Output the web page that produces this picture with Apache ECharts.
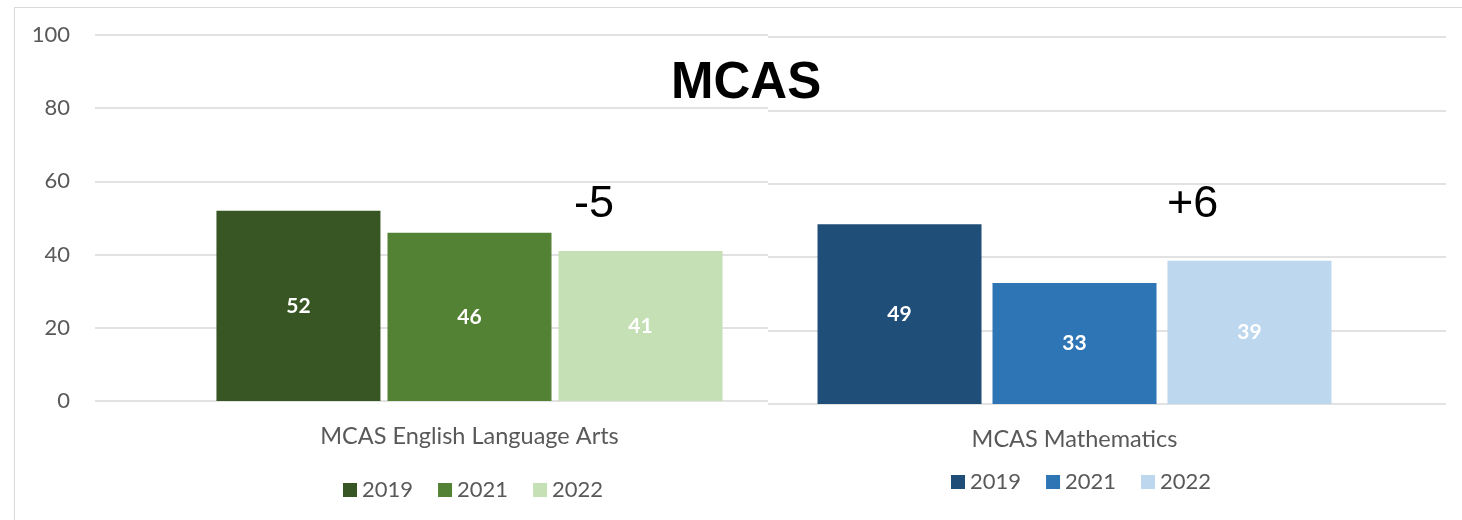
<!DOCTYPE html>
<html>
<head>
<meta charset="utf-8">
<script src="https://cdn.jsdelivr.net/npm/echarts@6/dist/echarts.min.js"></script>
<style>
    body { margin: 0; background: #fff; }
    .wrap { position: absolute; top: 0; height: 520px; overflow: hidden; }
    #ela-wrap { left: 0; width: 768px; }
    #math-wrap { left: 768px; width: 694px; }
    #ela { position: absolute; left: 0; top: 0; width: 860px; height: 520px; }
    #math { position: absolute; left: -65px; top: 0; width: 759px; height: 520px; }
    #notes { position: absolute; left: 0; top: 0; width: 1462px; height: 520px; pointer-events: none; }
    #frame { position: absolute; left: 14px; top: 7px; width: 1448px; height: 513px;
             border-left: 1px solid #d9d9d9; border-top: 1px solid #d9d9d9; }
</style>
</head>
<body>
<div id="frame"></div>
<div class="wrap" id="ela-wrap"><div id="ela"></div></div>
<div class="wrap" id="math-wrap"><div id="math"></div></div>
<div id="notes"></div>
<script>
    // data
    var years = ['2019', '2021', '2022']
    var elaCategory = ['MCAS English Language Arts']
    var mathCategory = ['MCAS Mathematics']
    var ela2019 = [52]
    var ela2021 = [46]
    var ela2022 = [41]
    var math2019 = [49]
    var math2021 = [33]
    var math2022 = [39]
    var elaChange = '-5'
    var mathChange = '+6'
    var chartTitle = 'MCAS'

    var greens = ['#375623', '#548235', '#c5e0b4']
    var blues = ['#1f4e79', '#2e75b6', '#bdd7ee']
    var font = 'Lato, "Open Sans", sans-serif'
    var grey = '#595959'

    function barSeries(prefix, values, colors, gap) {
        return values.map(function (v, i) {
            return {
                name: prefix + ' ' + years[i],
                type: 'bar',
                data: v,
                barWidth: 164,
                barGap: gap,
                itemStyle: {color: colors[i]},
                label: {
                    show: true,
                    position: 'inside',
                    color: '#fff',
                    fontWeight: 'bold',
                    fontSize: 21,
                    fontFamily: font
                }
            }
        })
    }

    function makeOption(prefix, category, values, colors, opts) {
        return {
            animation: false,
            textStyle: {fontFamily: font},
            grid: {left: opts.left, right: 16, top: opts.top, bottom: opts.bottom},
            legend: {
                left: opts.legendLeft,
                top: opts.legendTop,
                padding: 0,
                icon: 'rect',
                itemWidth: 14,
                itemHeight: 14,
                itemGap: 25,
                data: years.map(function (y) { return prefix + ' ' + y }),
                formatter: function (name) { return name.split(' ')[1] },
                textStyle: {color: grey, fontSize: 22, fontFamily: font}
            },
            xAxis: {
                type: 'category',
                data: category,
                axisLine: {show: false},
                axisTick: {show: false},
                axisLabel: {color: grey, fontSize: 23.5, margin: 23, fontFamily: font}
            },
            yAxis: {
                type: 'value',
                min: 0,
                max: 100,
                interval: 20,
                axisLabel: {show: opts.showY, color: grey, fontSize: 22, margin: 25, fontFamily: font},
                splitLine: {lineStyle: {color: '#d9d9d9', width: 1.5}}
            },
            series: barSeries(prefix, values, colors, opts.gap)
        }
    }

    var elaChart = echarts.init(document.getElementById('ela'))
    elaChart.setOption(makeOption('ELA', elaCategory, [ela2019, ela2021, ela2022], greens,
        {left: 95, top: 35, bottom: 119, legendLeft: 343, legendTop: 479, showY: true, gap: '4.3%'}))

    var mathChart = echarts.init(document.getElementById('math'))
    mathChart.setOption(makeOption('Math', mathCategory, [math2019, math2021, math2022], blues,
        {left: 0, top: 37, bottom: 116, legendLeft: 248, legendTop: 471, showY: false, gap: '6.7%'}))

    // text boxes laid over both charts
    var notes = echarts.init(document.getElementById('notes'))
    notes.setOption({
        animation: false,
        title: [
            {text: chartTitle, left: 666, top: 53,
             textStyle: {fontFamily: '"Liberation Sans", Arial', fontSize: 51, fontWeight: 'bold', color: '#000'}},
            {text: elaChange, left: 569, top: 177,
             textStyle: {fontFamily: '"Liberation Sans", Arial', fontSize: 45, fontWeight: 'normal', color: '#000'}},
            {text: mathChange, left: 1162, top: 177,
             textStyle: {fontFamily: '"Liberation Sans", Arial', fontSize: 45, fontWeight: 'normal', color: '#000'}}
        ]
    })
</script>
</body>
</html>
